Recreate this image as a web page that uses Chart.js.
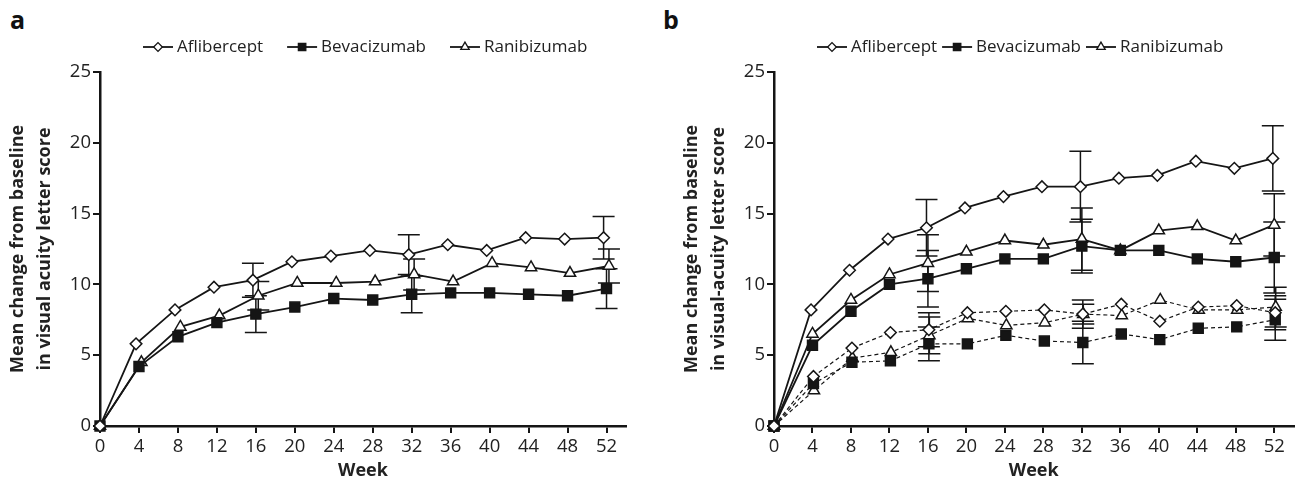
<!DOCTYPE html>
<html>
<head>
<meta charset="utf-8">
<script src="https://cdn.jsdelivr.net/npm/chart.js@4.4.0/dist/chart.umd.min.js"></script>
<style>
  body { margin: 0; background: #fff; width: 1302px; height: 486px; position: relative; overflow: hidden; }
  canvas { position: absolute; top: 0; }
  #chartA { left: 0; }
  #chartB { left: 651px; }
  .lab { position: absolute; font: bold 25px "Open Sans"; color: #111; }
</style>
</head>
<body>
<div class="lab" style="left:10px;top:2px">a</div>
<div class="lab" style="left:663px;top:2px">b</div>
<canvas id="chartA" width="651" height="486"></canvas>
<canvas id="chartB" width="651" height="486"></canvas>
<script>
// weeks on the x axis
const weeks = [0, 4, 8, 12, 16, 20, 24, 28, 32, 36, 40, 44, 48, 52];
const seriesNames = ['Aflibercept', 'Bevacizumab', 'Ranibizumab'];

// panel a
const aAfl = [0, 5.8, 8.2, 9.8, 10.3, 11.6, 12.0, 12.4, 12.1, 12.8, 12.4, 13.3, 13.2, 13.3];
const aBev = [0, 4.2, 6.3, 7.3, 7.9, 8.4, 9.0, 8.9, 9.3, 9.4, 9.4, 9.3, 9.2, 9.7];
const aRan = [0, 4.5, 7.0, 7.8, 9.2, 10.1, 10.1, 10.2, 10.7, 10.2, 11.5, 11.2, 10.8, 11.3];
const aAflErr = [null, null, null, null, 1.2, null, null, null, 1.4, null, null, null, null, 1.5];
const aBevErr = [null, null, null, null, 1.3, null, null, null, 1.3, null, null, null, null, 1.4];
const aRanErr = [null, null, null, null, 1.0, null, null, null, 1.1, null, null, null, null, 1.2];

// panel b, solid lines
const bAfl = [0, 8.2, 11.0, 13.2, 14.0, 15.4, 16.2, 16.9, 16.9, 17.5, 17.7, 18.7, 18.2, 18.9];
const bBev = [0, 5.7, 8.1, 10.0, 10.4, 11.1, 11.8, 11.8, 12.7, 12.4, 12.4, 11.8, 11.6, 11.9];
const bRan = [0, 6.5, 8.9, 10.7, 11.5, 12.3, 13.1, 12.8, 13.2, 12.4, 13.8, 14.1, 13.1, 14.2];
const bAflErr = [null, null, null, null, 2.0, null, null, null, 2.5, null, null, null, null, 2.3];
const bBevErr = [null, null, null, null, 2.0, null, null, null, 1.9, null, null, null, null, 2.5];
const bRanErr = [null, null, null, null, 2.0, null, null, null, 2.2, null, null, null, null, 2.2];

// panel b, dashed lines
const bAflD = [0, 3.5, 5.5, 6.6, 6.8, 8.0, 8.1, 8.2, 7.9, 8.6, 7.4, 8.4, 8.5, 8.0];
const bBevD = [0, 3.0, 4.5, 4.6, 5.8, 5.8, 6.4, 6.0, 5.9, 6.5, 6.1, 6.9, 7.0, 7.5];
const bRanD = [0, 2.5, 4.8, 5.2, 6.4, 7.6, 7.1, 7.3, 7.9, 7.8, 8.9, 8.2, 8.2, 8.4];
const bAflDErr = [null, null, null, null, 1.2, null, null, null, 1.0, null, null, null, null, 1.2];
const bBevDErr = [null, null, null, null, 1.2, null, null, null, 1.5, null, null, null, null, 1.45];
const bRanDErr = [null, null, null, null, 1.3, null, null, null, 0.7, null, null, null, null, 1.4];

const INK = '#151515';
const FONT = '"Open Sans", "Noto Sans", sans-serif';

const markers = {
  Aflibercept: { pointStyle: 'rectRot', radius: 5.8, fill: '#fff' },
  Bevacizumab: { pointStyle: 'rect', radius: 7, fill: INK },
  Ranibizumab: { pointStyle: 'triangle', radius: 6.5, fill: '#fff' }
};

function series(name, vals, errs, dashed, nudge) {
  const m = markers[name];
  return {
    label: name,
    data: weeks.map((w, i) => ({ x: w > 0 ? w + nudge : w, y: vals[i] })),
    errorBars: errs,
    borderColor: INK,
    borderWidth: dashed ? 1.2 : 1.8,
    borderDash: dashed ? [4, 3] : [],
    pointStyle: m.pointStyle,
    pointRadius: m.radius,
    pointBackgroundColor: m.fill,
    pointBorderColor: INK,
    pointBorderWidth: 1.5,
    tension: 0,
    clip: false
  };
}

// error bars drawn below the lines and markers
const errorBarPlugin = {
  id: 'errorBars',
  beforeDatasetsDraw(chart) {
    const ctx = chart.ctx;
    const y = chart.scales.y;
    ctx.save();
    ctx.strokeStyle = INK;
    ctx.lineWidth = 1.5;
    chart.data.datasets.forEach((ds, di) => {
      if (!ds.errorBars) return;
      const meta = chart.getDatasetMeta(di);
      ds.errorBars.forEach((e, i) => {
        if (e == null) return;
        const pt = meta.data[i];
        const v = ds.data[i].y;
        const top = y.getPixelForValue(v + e);
        const bot = y.getPixelForValue(v - e);
        ctx.beginPath();
        ctx.moveTo(pt.x, top); ctx.lineTo(pt.x, bot);
        ctx.moveTo(pt.x - 11, top); ctx.lineTo(pt.x + 11, top);
        ctx.moveTo(pt.x - 11, bot); ctx.lineTo(pt.x + 11, bot);
        ctx.stroke();
      });
    });
    ctx.restore();
  }
};

// legend with a short line through each marker
const lineLegendPlugin = {
  id: 'lineLegend',
  afterDraw(chart, args, opts) {
    const ctx = chart.ctx;
    ctx.save();
    ctx.font = '17px ' + FONT;
    ctx.textBaseline = 'middle';
    let x = chart.chartArea.left + opts.offset;
    const y = opts.y;
    seriesNames.forEach(name => {
      const m = markers[name];
      ctx.strokeStyle = INK;
      ctx.lineWidth = 1.8;
      ctx.beginPath();
      ctx.moveTo(x, y); ctx.lineTo(x + 30, y);
      ctx.stroke();
      ctx.fillStyle = m.fill;
      ctx.lineWidth = 1.3;
      Chart.helpers.drawPoint(ctx, { pointStyle: m.pointStyle, radius: m.radius * 0.75, rotation: 0, borderWidth: 1.3 }, x + 15, y);
      ctx.fillStyle = '#222';
      ctx.fillText(name, x + 34, y);
      x += 34 + ctx.measureText(name).width + opts.gap;
    });
    ctx.restore();
  }
};

function makeChart(id, datasets, yTitle, pad, legend) {
  return new Chart(document.getElementById(id), {
    type: 'line',
    data: { datasets },
    options: {
      responsive: false,
      animation: false,
      devicePixelRatio: 1,
      layout: { padding: pad },
      plugins: {
        legend: { display: false },
        tooltip: { enabled: false },
        lineLegend: legend
      },
      scales: {
        x: {
          type: 'linear',
          min: 0, max: 54,
          afterFit(s) { s.height = 60; },
          ticks: { stepSize: 4, includeBounds: false, color: '#222', padding: 3, font: { family: FONT, size: 18.5 } },
          grid: { drawOnChartArea: false, tickLength: 7, color: INK, lineWidth: 2 },
          border: { color: INK, width: 2.5 },
          title: { display: true, text: 'Week', color: '#222', padding: { top: 0, bottom: 4 }, font: { family: FONT, size: 18, weight: 'bold' } }
        },
        y: {
          min: 0, max: 25,
          afterFit(s) { s.width = 100; },
          ticks: { stepSize: 5, color: '#222', padding: 2, font: { family: FONT, size: 18.5 } },
          grid: { drawOnChartArea: false, tickLength: 7, color: INK, lineWidth: 2 },
          border: { color: INK, width: 2.5 },
          title: { display: true, text: yTitle, color: '#222', padding: { top: 4, bottom: 0 }, font: { family: FONT, size: 18, weight: 'bold', lineHeight: 1.5 } }
        }
      }
    },
    plugins: [errorBarPlugin, lineLegendPlugin]
  });
}

makeChart('chartA', [
  series('Aflibercept', aAfl, aAflErr, false, -0.3),
  series('Bevacizumab', aBev, aBevErr, false, 0),
  series('Ranibizumab', aRan, aRanErr, false, 0.25)
], ['Mean change from baseline', 'in visual acuity letter score'],
  { left: 0, right: 25, top: 72, bottom: 0 }, { offset: 43, y: 47, gap: 24 });

makeChart('chartB', [
  series('Aflibercept', bAfl, bAflErr, false, -0.15),
  series('Bevacizumab', bBev, bBevErr, false, 0),
  series('Ranibizumab', bRan, bRanErr, false, 0),
  series('Aflibercept', bAflD, bAflDErr, true, 0.1),
  series('Bevacizumab', bBevD, bBevDErr, true, 0.1),
  series('Ranibizumab', bRanD, bRanDErr, true, 0.15)
], ['Mean change from baseline', 'in visual-acuity letter score'],
  { left: 23, right: 3, top: 72, bottom: 0 }, { offset: 43, y: 47, gap: 5 });
</script>
</body>
</html>
